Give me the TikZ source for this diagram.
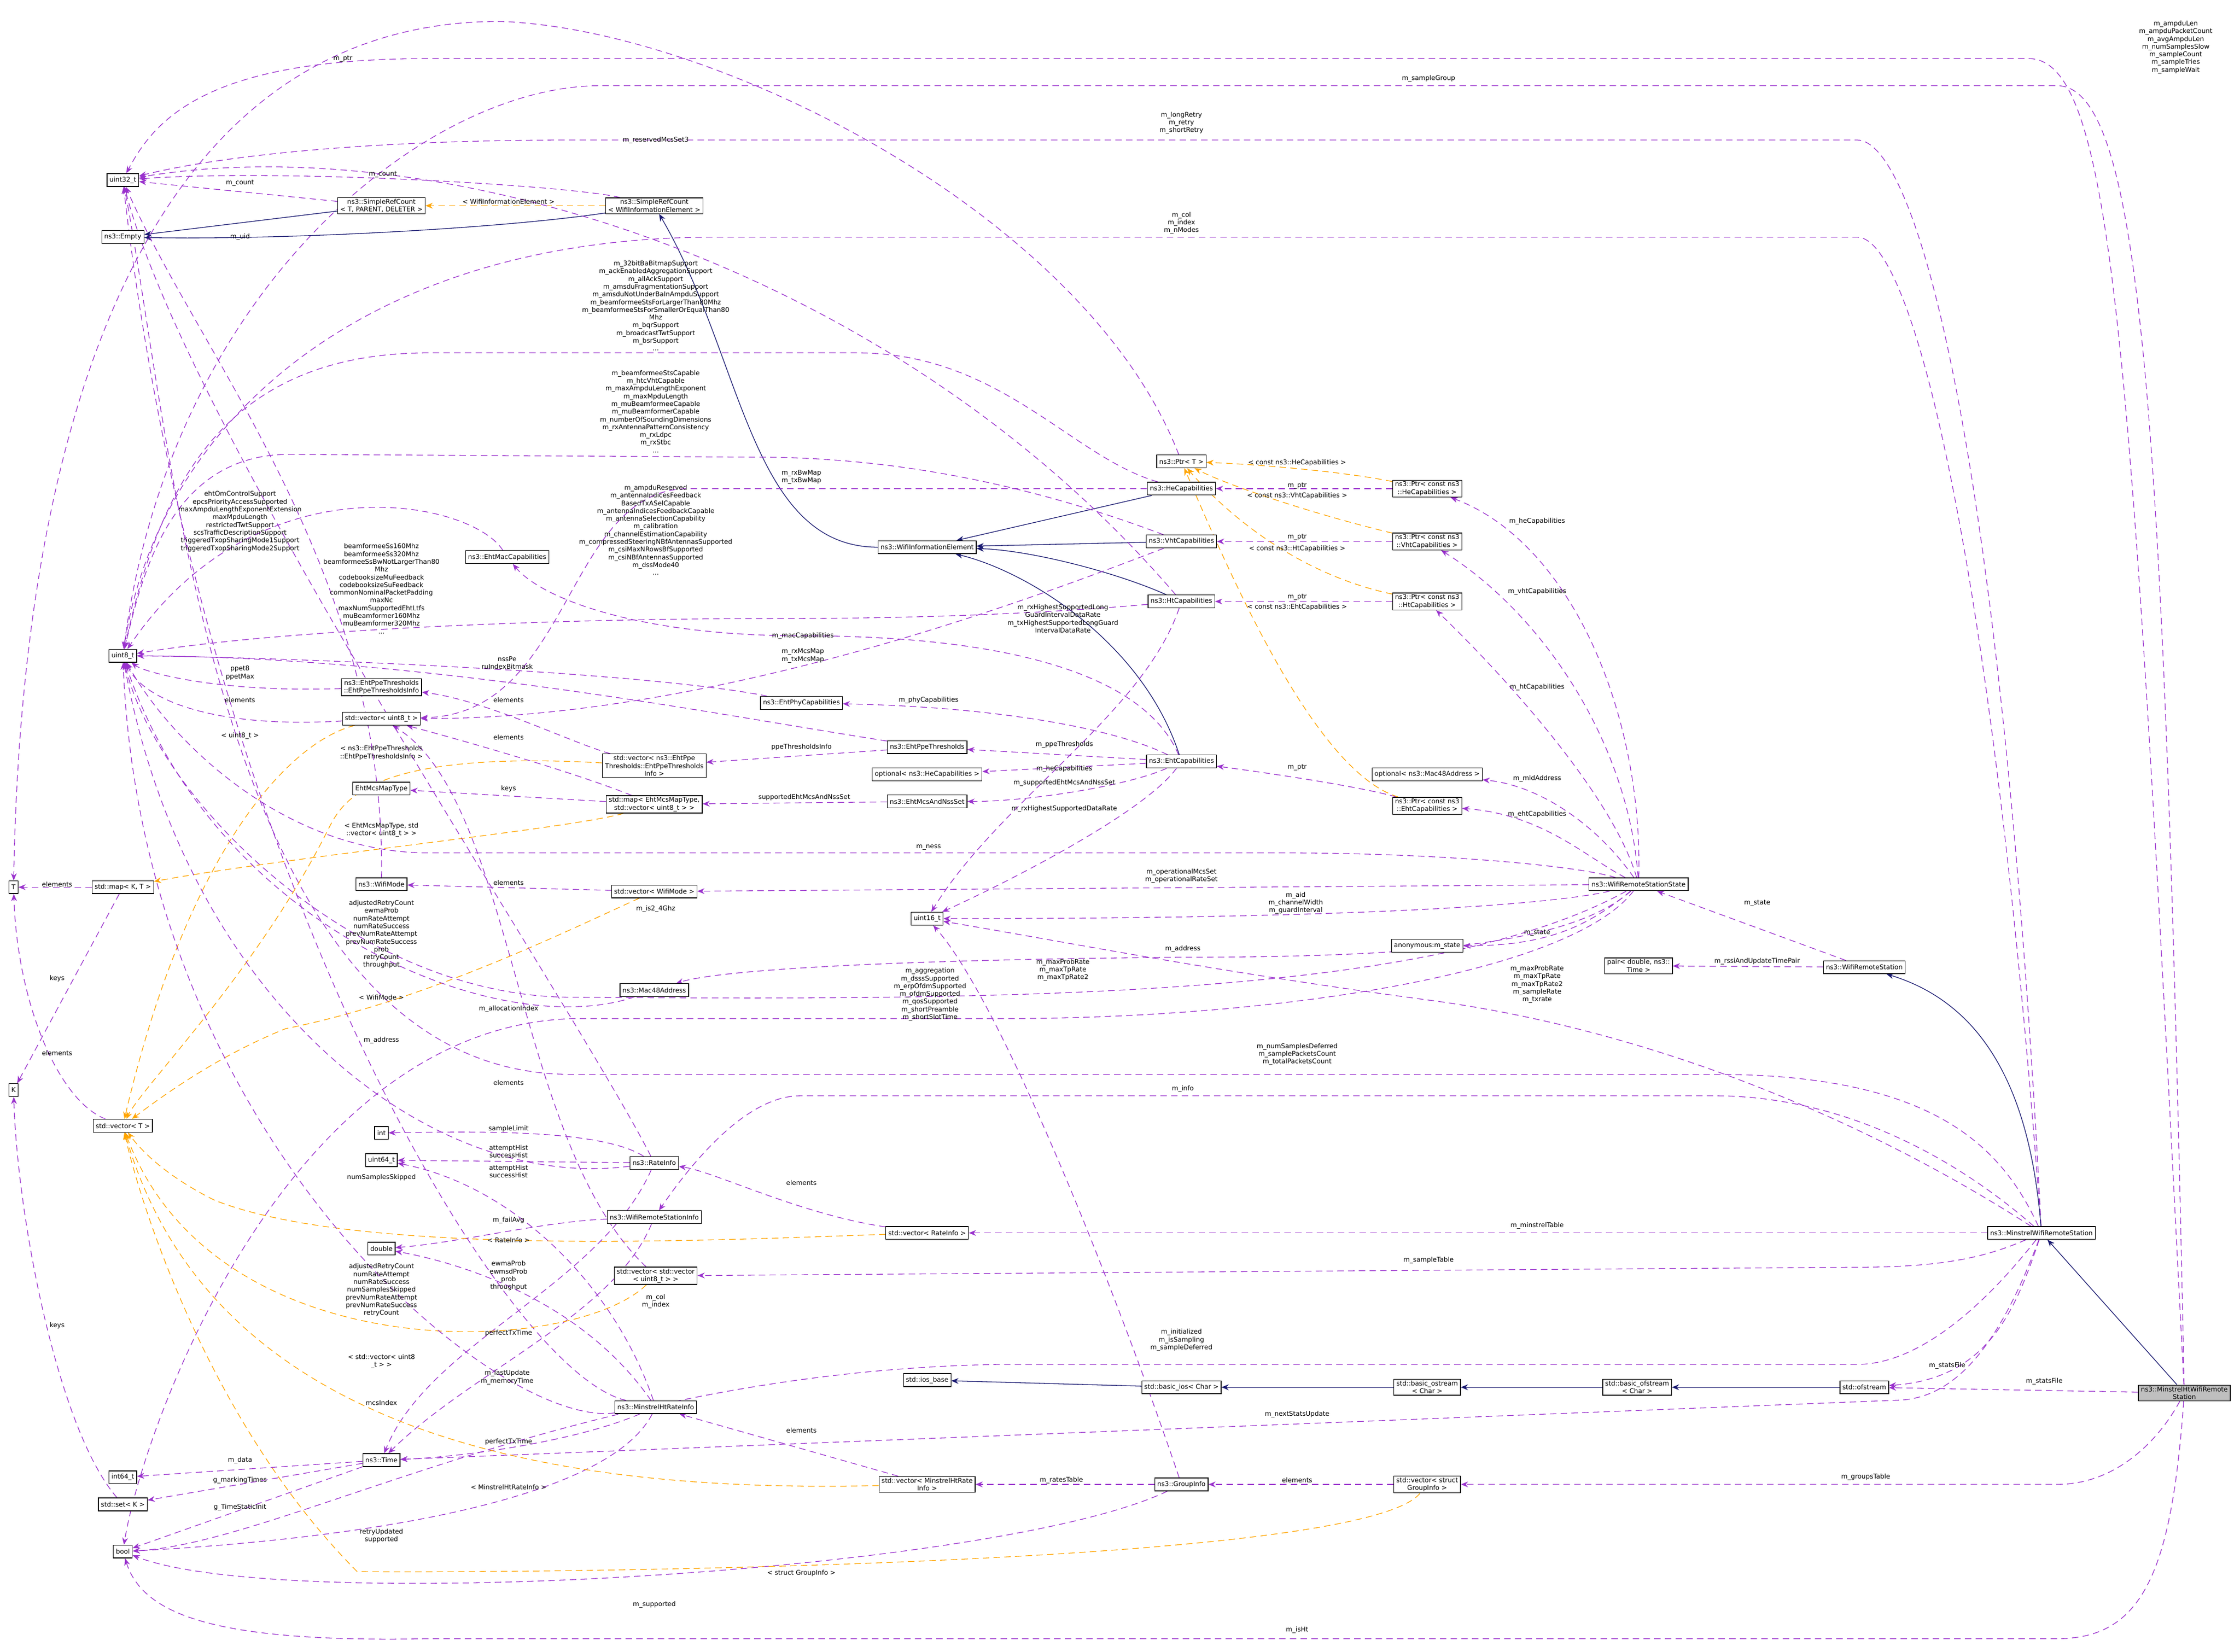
\documentclass[tikz,border=0pt]{standalone}
\usepackage{fontspec}
\setmainfont{DejaVu Sans}
\usetikzlibrary{arrows.meta,backgrounds}
\definecolor{pp}{HTML}{9A32CD}
\definecolor{orng}{HTML}{FFA500}
\definecolor{nvy}{HTML}{191970}
\newcommand{\dgf}{\fontsize{13}{15.4}\selectfont}
\tikzset{
 box/.style={draw=black,line width=1.4pt,fill=white,inner xsep=5pt,inner ysep=3pt,align=center,minimum height=9mm,font=\dgf},
 lbl/.style={align=center,font=\dgf,inner sep=1pt},
 pe/.style={draw=pp,line width=1.4pt,dash pattern=on 4.5mm off 3mm,-{Stealth[length=5mm,width=4mm]}},
 oe/.style={draw=orng,line width=1.4pt,dash pattern=on 4.5mm off 3mm,-{Stealth[length=5mm,width=4mm]}},
 ne/.style={draw=nvy,line width=1.4pt,-{Stealth[length=5mm,width=4mm]}},
}
\begin{document}
\begin{tikzpicture}[x=1mm,y=-1mm]
\useasboundingbox (0,0) rectangle (1568,1156);
% nodes
\node[box] (u32) at (86,126) {uint32\_t};
\node[box] (empty) at (86,166) {ns3::Empty};
\node[box] (srcT) at (267,144) {ns3::SimpleRefCount\\< T, PARENT, DELETER >};
\node[box] (srcW) at (458,144) {ns3::SimpleRefCount\\< WifiInformationElement >};
\node[box] (u8) at (86,459) {uint8\_t};
\node[box] (ehtmac) at (355,390) {ns3::EhtMacCapabilities};
\node[box] (ppeinfo) at (267,481) {ns3::EhtPpeThresholds\\::EhtPpeThresholdsInfo};
\node[box] (vu8) at (267,503) {std::vector< uint8\_t >};
\node[box] (ehtphy) at (561,492) {ns3::EhtPhyCapabilities};
\node[box] (ppe) at (649,523) {ns3::EhtPpeThresholds};
\node[box] (vppe) at (458,536) {std::vector< ns3::EhtPpe\\Thresholds::EhtPpeThresholds\\Info >};
\node[box] (mcsmap) at (267,552) {EhtMcsMapType};
\node[box] (mapm) at (458,563) {std::map< EhtMcsMapType,\\std::vector< uint8\_t > >};
\node[box] (optHe) at (649,542) {optional< ns3::HeCapabilities >};
\node[box] (mcsnss) at (649,561) {ns3::EhtMcsAndNssSet};
\node[box] (T) at (9.5,621) {T};
\node[box] (mapKT) at (86,621) {std::map< K, T >};
\node[box] (wmode) at (267,619) {ns3::WifiMode};
\node[box] (vwmode) at (458,624) {std::vector< WifiMode >};
\node[box] (uint16) at (649,643) {uint16\_t};
\node[box] (mac) at (458,693) {ns3::Mac48Address};
\node[box] (K) at (9.5,763) {K};
\node[box] (vT) at (86,788) {std::vector< T >};
\node[box] (int) at (267,793) {int};
\node[box] (u64) at (267,812) {uint64\_t};
\node[box] (rate) at (458,814) {ns3::RateInfo};
\node[box] (wrsinfo) at (458,852) {ns3::WifiRemoteStationInfo};
\node[box] (vrate) at (649,863) {std::vector< RateInfo >};
\node[box] (double) at (267,874) {double};
\node[box] (vvu8) at (459,893) {std::vector< std::vector\\< uint8\_t > >};
\node[box] (iosbase) at (649,966) {std::ios\_base};
\node[box] (mhtri) at (459,985) {ns3::MinstrelHtRateInfo};
\node[box] (time) at (267,1022) {ns3::Time};
\node[box] (i64) at (86,1034) {int64\_t};
\node[box] (setK) at (86,1053) {std::set< K >};
\node[box] (bool) at (86,1086) {bool};
\node[box] (vmhtri) at (649,1039) {std::vector< MinstrelHtRate\\Info >};
\node[box] (group) at (827,1039) {ns3::GroupInfo};
\node[box] (vgroup) at (999,1039) {std::vector< struct\\GroupInfo >};
\node[box] (basicios) at (827,971) {std::basic\_ios< Char >};
\node[box] (bostream) at (999,971) {std::basic\_ostream\\< Char >};
\node[box] (bofstream) at (1146,971) {std::basic\_ofstream\\< Char >};
\node[box] (ofstream) at (1305,971) {std::ofstream};
\node[box,fill=black!25] (H) at (1529,975) {ns3::MinstrelHtWifiRemote\\Station};
\node[box] (M) at (1429,863) {ns3::MinstrelWifiRemoteStation};
\node[box] (wrs) at (1305,677) {ns3::WifiRemoteStation};
\node[box] (pair) at (1147,676) {pair< double, ns3::\\Time >};
\node[box] (state) at (1147,619) {ns3::WifiRemoteStationState};
\node[box] (anon) at (999,662) {anonymous:m\_state};
\node[box] (optmac) at (999,542) {optional< ns3::Mac48Address >};
\node[box] (pEht) at (999,564) {ns3::Ptr< const ns3\\::EhtCapabilities >};
\node[box] (pHt) at (999,421) {ns3::Ptr< const ns3\\::HtCapabilities >};
\node[box] (pVht) at (999,379) {ns3::Ptr< const ns3\\::VhtCapabilities >};
\node[box] (pHe) at (999,342) {ns3::Ptr< const ns3\\::HeCapabilities >};
\node[box] (ptrT) at (827,323) {ns3::Ptr< T >};
\node[box] (he) at (827,342) {ns3::HeCapabilities};
\node[box] (vht) at (827,379) {ns3::VhtCapabilities};
\node[box] (ht) at (827,421) {ns3::HtCapabilities};
\node[box] (eht) at (827,533) {ns3::EhtCapabilities};
\node[box] (wie) at (649,383) {ns3::WifiInformationElement};
% labels
\node[lbl] (l1) at (1523,33) {m\_ampduLen\\m\_ampduPacketCount\\m\_avgAmpduLen\\m\_numSamplesSlow\\m\_sampleCount\\m\_sampleTries\\m\_sampleWait};
\node[lbl] (l2) at (1000,55) {m\_sampleGroup};
\node[lbl] (l3) at (827,86) {m\_longRetry\\m\_retry\\m\_shortRetry};
\node[lbl] (l4) at (827,156) {m\_col\\m\_index\\m\_nModes};
\node[lbl] (l5) at (908,738) {m\_numSamplesDeferred\\m\_samplePacketsCount\\m\_totalPacketsCount};
\node[lbl] (l6) at (828,762) {m\_info};
\node[lbl] (l7) at (1076,858) {m\_minstrelTable};
\node[lbl] (l8) at (1000,882) {m\_sampleTable};
\node[lbl] (l9) at (827,938) {m\_initialized\\m\_isSampling\\m\_sampleDeferred};
\node[lbl] (l10) at (1363,956) {m\_statsFile};
\node[lbl] (l11) at (908,990) {m\_nextStatsUpdate};
\node[lbl] (l12) at (1076,689) {m\_maxProbRate\\m\_maxTpRate\\m\_maxTpRate2\\m\_sampleRate\\m\_txrate};
\node[lbl] (l13) at (1431,967) {m\_statsFile};
\node[lbl] (l14) at (1306,1034) {m\_groupsTable};
\node[lbl] (l15) at (908,1141) {m\_isHt};
\node[lbl] (l16) at (355,964) {m\_lastUpdate\\m\_memoryTime};
\node[lbl] (l17) at (356,706) {m\_allocationIndex};
\node[lbl] (l18) at (1076,365) {m\_heCapabilities};
\node[lbl] (l19) at (1076,414) {m\_vhtCapabilities};
\node[lbl] (l20) at (1076,481) {m\_htCapabilities};
\node[lbl] (l21) at (1076,545) {m\_mldAddress};
\node[lbl] (l22) at (1076,570) {m\_ehtCapabilities};
\node[lbl] (l23) at (1076,653) {m\_state};
\node[lbl] (l24) at (650,593) {m\_ness};
\node[lbl] (l25) at (827,613) {m\_operationalMcsSet\\m\_operationalRateSet};
\node[lbl] (l26) at (907,632) {m\_aid\\m\_channelWidth\\m\_guardInterval};
\node[lbl] (l27) at (828,664) {m\_address};
\node[lbl] (l28) at (651,696) {m\_aggregation\\m\_dsssSupported\\m\_erpOfdmSupported\\m\_ofdmSupported\\m\_qosSupported\\m\_shortPreamble\\m\_shortSlotTime};
\node[lbl] (l29) at (1230,632) {m\_state};
\node[lbl] (l30) at (1230,673) {m\_rssiAndUpdateTimePair};
\node[lbl] (l31) at (356,141) {< WifiInformationElement >};
\node[lbl] (l32) at (168,128) {m\_count};
\node[lbl] (l33) at (268,122) {m\_count};
\node[lbl] (l34) at (168,166) {m\_uid};
\node[lbl] (l35) at (459,98) {m\_reservedMcsSet3};
\node[lbl] (l36) at (459,214) {m\_32bitBaBitmapSupport\\m\_ackEnabledAggregationSupport\\m\_allAckSupport\\m\_amsduFragmentationSupport\\m\_amsduNotUnderBaInAmpduSupport\\m\_beamformeeStsForLargerThan80Mhz\\m\_beamformeeStsForSmallerOrEqualThan80\\Mhz\\m\_bqrSupport\\m\_broadcastTwtSupport\\m\_bsrSupport\\...};
\node[lbl] (l37) at (459,288) {m\_beamformeeStsCapable\\m\_htcVhtCapable\\m\_maxAmpduLengthExponent\\m\_maxMpduLength\\m\_muBeamformeeCapable\\m\_muBeamformerCapable\\m\_numberOfSoundingDimensions\\m\_rxAntennaPatternConsistency\\m\_rxLdpc\\m\_rxStbc\\...};
\node[lbl] (l38) at (459,371) {m\_ampduReserved\\m\_antennaIndicesFeedback\\BasedTxASelCapable\\m\_antennaIndicesFeedbackCapable\\m\_antennaSelectionCapability\\m\_calibration\\m\_channelEstimationCapability\\m\_compressedSteeringNBfAntennasSupported\\m\_csiMaxNRowsBfSupported\\m\_csiNBfAntennasSupported\\m\_dssMode40\\...};
\node[lbl] (l39) at (561,334) {m\_rxBwMap\\m\_txBwMap};
\node[lbl] (l40) at (562,459) {m\_rxMcsMap\\m\_txMcsMap};
\node[lbl] (l41) at (744,433) {m\_rxHighestSupportedLong\\GuardIntervalDataRate\\m\_txHighestSupportedLongGuard\\IntervalDataRate};
\node[lbl] (l42) at (562,445) {m\_macCapabilities};
\node[lbl] (l43) at (650,490) {m\_phyCapabilities};
\node[lbl] (l44) at (745,521) {m\_ppeThresholds};
\node[lbl] (l45) at (745,538) {m\_heCapabilities};
\node[lbl] (l46) at (745,548) {m\_supportedEhtMcsAndNssSet};
\node[lbl] (l47) at (745,566) {m\_rxHighestSupportedDataRate};
\node[lbl] (l48) at (908,537) {m\_ptr};
\node[lbl] (l49) at (908,340) {m\_ptr};
\node[lbl] (l50) at (908,376) {m\_ptr};
\node[lbl] (l51) at (908,418) {m\_ptr};
\node[lbl] (l52) at (908,324) {< const ns3::HeCapabilities >};
\node[lbl] (l53) at (908,347) {< const ns3::VhtCapabilities >};
\node[lbl] (l54) at (908,384) {< const ns3::HtCapabilities >};
\node[lbl] (l55) at (908,425) {< const ns3::EhtCapabilities >};
\node[lbl] (l56) at (240,41) {m\_ptr};
\node[lbl] (l57) at (168,365) {ehtOmControlSupport\\epcsPriorityAccessSupported\\maxAmpduLengthExponentExtension\\maxMpduLength\\restrictedTwtSupport\\scsTrafficDescriptionSupport\\triggeredTxopSharingMode1Support\\triggeredTxopSharingMode2Support};
\node[lbl] (l58) at (267,412) {beamformeeSs160Mhz\\beamformeeSs320Mhz\\beamformeeSsBwNotLargerThan80\\Mhz\\codebooksizeMuFeedback\\codebooksizeSuFeedback\\commonNominalPacketPadding\\maxNc\\maxNumSupportedEhtLtfs\\muBeamformer160Mhz\\muBeamformer320Mhz\\...};
\node[lbl] (l59) at (355,464) {nssPe\\ruIndexBitmask};
\node[lbl] (l60) at (561,523) {ppeThresholdsInfo};
\node[lbl] (l61) at (168,471) {ppet8\\ppetMax};
\node[lbl] (l62) at (168,490) {elements};
\node[lbl] (l63) at (356,490) {elements};
\node[lbl] (l64) at (267,527) {< ns3::EhtPpeThresholds\\::EhtPpeThresholdsInfo >};
\node[lbl] (l65) at (168,515) {< uint8\_t >};
\node[lbl] (l66) at (356,552) {keys};
\node[lbl] (l67) at (356,516) {elements};
\node[lbl] (l68) at (267,581) {< EhtMcsMapType, std\\::vector< uint8\_t > >};
\node[lbl] (l69) at (563,558) {supportedEhtMcsAndNssSet};
\node[lbl] (l70) at (40,619) {elements};
\node[lbl] (l71) at (40,685) {keys};
\node[lbl] (l72) at (40,737) {elements};
\node[lbl] (l73) at (40,928) {keys};
\node[lbl] (l74) at (356,618) {elements};
\node[lbl] (l75) at (267,698) {< WifiMode >};
\node[lbl] (l76) at (267,728) {m\_address};
\node[lbl] (l77) at (267,654) {adjustedRetryCount\\ewmaProb\\numRateAttempt\\numRateSuccess\\prevNumRateAttempt\\prevNumRateSuccess\\prob\\retryCount\\throughput};
\node[lbl] (l78) at (356,790) {sampleLimit};
\node[lbl] (l79) at (356,806) {attemptHist\\successHist};
\node[lbl] (l80) at (356,820) {attemptHist\\successHist};
\node[lbl] (l81) at (267,824) {numSamplesSkipped};
\node[lbl] (l82) at (356,854) {m\_failAvg};
\node[lbl] (l83) at (561,828) {elements};
\node[lbl] (l84) at (356,868) {< RateInfo >};
\node[lbl] (l85) at (356,893) {ewmaProb\\ewmsdProb\\prob\\throughput};
\node[lbl] (l86) at (267,903) {adjustedRetryCount\\numRateAttempt\\numRateSuccess\\numSamplesSkipped\\prevNumRateAttempt\\prevNumRateSuccess\\retryCount};
\node[lbl] (l87) at (356,933) {perfectTxTime};
\node[lbl] (l88) at (356,1009) {perfectTxTime};
\node[lbl] (l89) at (356,758) {elements};
\node[lbl] (l90) at (267,953) {< std::vector< uint8\\\_t > >};
\node[lbl] (l91) at (267,982) {mcsIndex};
\node[lbl] (l92) at (267,1075) {retryUpdated\\supported};
\node[lbl] (l93) at (561,1001) {elements};
\node[lbl] (l94) at (356,1041) {< MinstrelHtRateInfo >};
\node[lbl] (l95) at (743,1036) {m\_ratesTable};
\node[lbl] (l96) at (458,1123) {m\_supported};
\node[lbl] (l97) at (744,679) {m\_maxProbRate\\m\_maxTpRate\\m\_maxTpRate2};
\node[lbl] (l98) at (908,1036) {elements};
\node[lbl] (l99) at (561,1101) {< struct GroupInfo >};
\node[lbl] (l100) at (168,1022) {m\_data};
\node[lbl] (l101) at (168,1036) {g\_markingTimes};
\node[lbl] (l102) at (168,1055) {g\_TimeStaticInit};
\node[lbl] (l103) at (459,636) {m\_is2\_4Ghz};
\node[lbl] (l104) at (459,911) {m\_col\\m\_index};
\begin{scope}[on background layer]
\draw[pe] (H) .. controls (1492,250) and (1480,41) .. (1420,41) -- (300,41) .. controls (150,41) and (110,80) .. (u32);
\draw[pe] (H) .. controls (1515,300) and (1500,60) .. (1440,60) -- (420,60) .. controls (300,60) and (120,200) .. (u8);
\draw[pe] (M) .. controls (1400,300) and (1340,98) .. (1300,98) -- (400,98) .. controls (250,98) and (150,110) .. (u32);
\draw[pe] (M) .. controls (1395,400) and (1340,166) .. (1300,166) -- (500,166) .. controls (250,166) and (110,300) .. (u8);
\draw[pe] (M) .. controls (1400,800) and (1350,752) .. (1200,752) -- (400,752) .. controls (150,752) and (120,300) .. (u32);
\draw[pe] (M) .. controls (1380,820) and (1300,767) .. (1200,767) -- (560,767) .. controls (520,767) and (480,820) .. (wrsinfo);
\draw[pe] (M) -- (vrate);
\draw[pe] (M) .. controls (1390,880) and (1360,887) .. (1300,887) -- (vvu8);
\draw[pe] (M) .. controls (1400,900) and (1350,955) .. (1300,955) -- (700,955) .. controls (400,960) and (200,1080) .. (bool);
\draw[pe] (M) .. controls (1410,920) and (1390,965) .. (ofstream);
\draw[pe] (M) .. controls (1400,940) and (1370,978) .. (1330,980) -- (time);
\draw[pe] (M) .. controls (1300,780) and (1150,720) .. (1000,700) .. controls (850,680) and (750,660) .. (uint16);
\draw[pe] (H) -- (ofstream);
\draw[pe] (H) .. controls (1510,1010) and (1480,1039) .. (1440,1039) -- (vgroup);
\draw[pe] (H) .. controls (1520,1100) and (1500,1147) .. (1440,1147) -- (300,1147) .. controls (150,1150) and (100,1130) .. (bool);
\draw[ne] (H) -- (M);
\draw[ne] (M) .. controls (1420,750) and (1380,700) .. (wrs);
\draw[ne] (ofstream) -- (bofstream);
\draw[ne] (bofstream) -- (bostream);
\draw[ne] (bostream) -- (basicios);
\draw[ne] (basicios) -- (iosbase);
\draw[pe] (state) .. controls (1150,500) and (1100,380) .. (pHe);
\draw[pe] (state) .. controls (1140,520) and (1080,430) .. (pVht);
\draw[pe] (state) .. controls (1130,560) and (1060,480) .. (pHt);
\draw[pe] (state) .. controls (1120,580) and (1080,550) .. (optmac);
\draw[pe] (state) .. controls (1110,600) and (1080,570) .. (pEht);
\draw[pe] (state) .. controls (1110,650) and (1080,662) .. (anon);
\draw[pe] (state) .. controls (1100,605) and (1000,597) .. (900,597) -- (300,597) .. controls (200,597) and (120,520) .. (u8);
\draw[pe] (state) -- (vwmode);
\draw[pe] (state) .. controls (1100,630) and (1000,643) .. (uint16);
\draw[pe] (state) .. controls (1100,660) and (1000,670) .. (828,670) .. controls (600,672) and (500,680) .. (mac);
\draw[pe] (state) .. controls (1100,680) and (900,713) .. (700,713) -- (400,713) .. controls (200,720) and (100,1000) .. (bool);
\draw[pe] (state) .. controls (1000,700) and (700,700) .. (400,698) .. controls (250,698) and (110,560) .. (u8);
\draw[pe] (wrs) -- (state);
\draw[pe] (wrs) -- (pair);
\draw[ne] (he) -- (wie);
\draw[ne] (vht) -- (wie);
\draw[ne] (ht) .. controls (780,400) and (720,385) .. (wie);
\draw[ne] (eht) .. controls (800,450) and (720,400) .. (wie);
\draw[ne] (wie) .. controls (525,383) and (520,250) .. (srcW);
\draw[ne] (srcW) .. controls (350,160) and (200,168) .. (empty);
\draw[ne] (srcT) -- (empty);
\draw[oe] (srcW) -- (srcT);
\draw[pe] (srcT) -- (u32);
\draw[pe] (srcW) .. controls (400,130) and (200,118) .. (u32);
\draw[pe] (wmode) .. controls (270,400) and (140,250) .. (u32);
\draw[pe] (ht) .. controls (620,180) and (300,90) .. (u32);
\draw[pe] (he) .. controls (750,320) and (700,247) .. (600,247) -- (300,247) .. controls (150,247) and (110,350) .. (u8);
\draw[pe] (vht) .. controls (750,350) and (650,320) .. (530,320) -- (200,318) .. controls (120,320) and (100,400) .. (u8);
\draw[pe] (ht) .. controls (700,432) and (600,433) .. (530,433) .. controls (400,433) and (200,440) .. (u8);
\draw[pe] (he) -- (480,342) .. controls (395,345) and (400,500) .. (vu8);
\draw[pe] (vht) .. controls (720,420) and (500,503) .. (vu8);
\draw[pe] (ht) .. controls (800,500) and (700,560) .. (uint16);
\draw[pe] (eht) .. controls (800,470) and (700,445) .. (560,445) .. controls (450,445) and (380,420) .. (ehtmac);
\draw[pe] (eht) .. controls (780,510) and (700,495) .. (ehtphy);
\draw[pe] (eht) -- (ppe);
\draw[pe] (eht) -- (optHe);
\draw[pe] (eht) .. controls (790,550) and (720,561) .. (mcsnss);
\draw[pe] (eht) .. controls (800,570) and (700,620) .. (uint16);
\draw[pe] (pHe) -- (he);
\draw[pe] (pVht) -- (vht);
\draw[pe] (pHt) -- (ht);
\draw[pe] (pEht) .. controls (950,550) and (880,540) .. (eht);
\draw[oe] (pHe) .. controls (940,330) and (880,325) .. (ptrT);
\draw[oe] (pVht) .. controls (920,360) and (860,340) .. (ptrT);
\draw[oe] (pHt) .. controls (900,400) and (850,350) .. (ptrT);
\draw[oe] (pEht) .. controls (920,540) and (860,400) .. (ptrT);
\draw[pe] (ptrT) .. controls (760,150) and (500,20) .. (350,15) .. controls (100,15) and (15,300) .. (T);
\draw[pe] (ehtmac) .. controls (330,350) and (180,320) .. (u8);
\draw[pe] (ehtphy) .. controls (450,470) and (200,460) .. (u8);
\draw[pe] (ppe) .. controls (500,500) and (300,460) .. (u8);
\draw[pe] (ppe) -- (vppe);
\draw[pe] (ppeinfo) .. controls (150,485) and (100,470) .. (u8);
\draw[pe] (vu8) .. controls (150,510) and (100,490) .. (u8);
\draw[pe] (vppe) .. controls (400,520) and (340,490) .. (ppeinfo);
\draw[oe] (vppe) .. controls (260,525) and (240,560) .. (230,580) .. controls (180,680) and (100,760) .. (vT);
\draw[oe] (vu8) .. controls (200,520) and (130,600) .. (vT);
\draw[pe] (mapm) -- (mcsmap);
\draw[pe] (mapm) .. controls (400,540) and (330,520) .. (vu8);
\draw[oe] (mapm) .. controls (400,580) and (200,600) .. (mapKT);
\draw[pe] (mcsnss) -- (mapm);
\draw[pe] (mapKT) -- (T);
\draw[pe] (mapKT) -- (K);
\draw[pe] (vT) .. controls (40,770) and (12,700) .. (T);
\draw[pe] (setK) .. controls (40,1000) and (12,850) .. (K);
\draw[pe] (vwmode) -- (wmode);
\draw[oe] (vwmode) .. controls (400,650) and (300,700) .. (200,720) .. controls (150,740) and (110,770) .. (vT);
\draw[pe] (mac) .. controls (350,730) and (150,650) .. (u8);
\draw[pe] (rate) .. controls (400,700) and (130,300) .. (u32);
\draw[pe] (rate) .. controls (420,790) and (330,792) .. (int);
\draw[pe] (rate) -- (u64);
\draw[pe] (mhtri) .. controls (430,900) and (360,830) .. (u64);
\draw[pe] (rate) .. controls (300,835) and (130,700) .. (u8);
\draw[pe] (wrsinfo) .. controls (380,855) and (320,870) .. (double);
\draw[pe] (vrate) .. controls (560,850) and (500,820) .. (rate);
\draw[oe] (vrate) .. controls (500,868) and (250,880) .. (150,840) .. controls (110,820) and (95,800) .. (vT);
\draw[pe] (mhtri) .. controls (400,900) and (300,880) .. (double);
\draw[pe] (mhtri) .. controls (350,960) and (140,600) .. (u32);
\draw[pe] (rate) .. controls (420,900) and (300,940) .. (time);
\draw[pe] (mhtri) .. controls (400,1010) and (320,1020) .. (time);
\draw[pe] (wrsinfo) .. controls (430,920) and (330,960) .. (time);
\draw[pe] (vvu8) .. controls (360,800) and (360,560) .. (vu8);
\draw[oe] (vvu8) .. controls (400,950) and (150,960) .. (vT);
\draw[pe] (mhtri) .. controls (350,1000) and (100,800) .. (u8);
\draw[pe] (mhtri) .. controls (420,1060) and (200,1080) .. (bool);
\draw[pe] (vmhtri) -- (mhtri);
\draw[oe] (vmhtri) .. controls (400,1045) and (150,1010) .. (vT);
\draw[pe] (group) -- (vmhtri);
\draw[pe] (group) .. controls (700,1100) and (200,1130) .. (bool);
\draw[pe] (group) .. controls (780,900) and (700,700) .. (uint16);
\draw[pe] (vgroup) -- (group);
\draw[oe] (vgroup) .. controls (950,1100) and (300,1101) .. (250,1100) .. controls (150,1000) and (100,850) .. (vT);
\draw[pe] (time) -- (i64);
\draw[pe] (time) -- (setK);
\draw[pe] (time) -- (bool);
\end{scope}
\end{tikzpicture}
\end{document}
